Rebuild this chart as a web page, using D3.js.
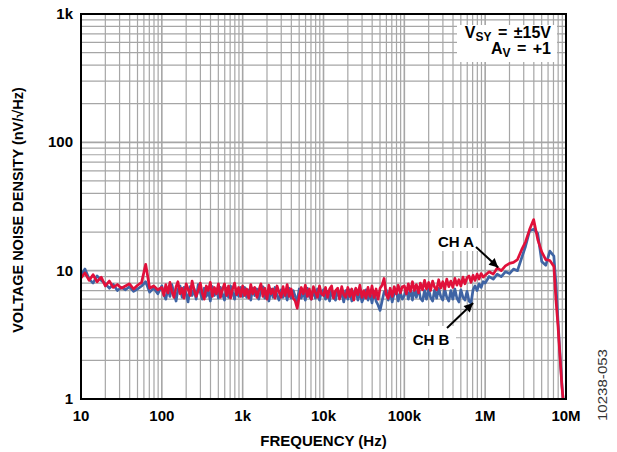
<!DOCTYPE html>
<html>
<head>
<meta charset="utf-8">
<script src="https://cdn.jsdelivr.net/npm/d3@7"></script>
<style>
  body { margin: 0; background: #fff; }
  svg { display: block; }
  text { font-family: "Liberation Sans", Arial, sans-serif; }
</style>
</head>
<body>
<div id="chart"></div>
<script>
// frequency points (Hz)
const freq = [
  10, 11.2, 12.6, 14.1, 15.8, 17.8, 20, 22.4, 25.1, 28.2, 31.6, 35.5, 39.8, 44.7, 50.1, 56.2, 63.1, 70.8, 79.4, 89.1,
  100, 106, 112, 119, 126, 133, 141, 150, 158, 168, 178, 188, 200, 211, 224, 237, 251, 266, 282, 299,
  316, 335, 355, 376, 398, 422, 447, 473, 501, 531, 562, 596, 631, 668, 708, 750, 794, 841, 891, 944,
  1000, 1060, 1120, 1190, 1260, 1330, 1410, 1500, 1580, 1680, 1780, 1880, 2000, 2110, 2240, 2370, 2510, 2660, 2820, 2990,
  3160, 3350, 3550, 3760, 3980, 4220, 4470, 4730, 5010, 5310, 5620, 5960, 6310, 6680, 7080, 7500, 7940, 8410, 8910, 9440,
  1e4, 1.06e4, 1.12e4, 1.19e4, 1.26e4, 1.33e4, 1.41e4, 1.5e4, 1.58e4, 1.68e4, 1.78e4, 1.88e4, 2e4, 2.11e4, 2.24e4, 2.37e4, 2.51e4, 2.66e4, 2.82e4, 2.99e4,
  3.16e4, 3.35e4, 3.55e4, 3.76e4, 3.98e4, 4.22e4, 4.47e4, 4.73e4, 5.01e4, 5.31e4, 5.62e4, 5.96e4, 6.31e4, 6.68e4, 7.08e4, 7.5e4, 7.94e4, 8.41e4, 8.91e4, 9.44e4,
  1e5, 1.06e5, 1.12e5, 1.19e5, 1.26e5, 1.33e5, 1.41e5, 1.5e5, 1.58e5, 1.68e5, 1.78e5, 1.88e5, 2e5, 2.11e5, 2.24e5, 2.37e5, 2.51e5, 2.66e5, 2.82e5, 2.99e5,
  3.16e5, 3.35e5, 3.55e5, 3.76e5, 3.98e5, 4.22e5, 4.47e5, 4.73e5, 5.01e5, 5.31e5, 5.62e5, 5.96e5, 6.31e5, 6.68e5, 7.08e5, 7.5e5, 7.94e5, 8.41e5, 8.91e5, 9.44e5,
  1e6, 1.12e6, 1.26e6, 1.41e6, 1.58e6, 1.78e6, 2e6, 2.24e6, 2.51e6, 2.82e6, 3.16e6, 3.55e6, 3.98e6, 4.47e6, 5.01e6, 5.62e6, 6.31e6, 7.08e6, 7.5e6, 7.94e6, 8.4e6, 8.91e6, 9.2e6
];

// CH A (red), nV/rtHz
const chA = [
  8.8, 9.6, 8.4, 9.3, 8.2, 8.9, 7.6, 8.3, 7.4, 7.8, 7.3, 7.6, 7.9, 7.2, 7.7, 8.1, 11.2, 7.3, 7.6, 7.1,
  7.4, 6.4, 7.8, 6.7, 8.1, 6.9, 6.2, 7.5, 8.2, 6.6, 7.3, 6.1, 7.9, 7.2, 6.4, 8.3, 7.1, 6.3, 7.0, 8.0,
  6.7, 6.0, 7.6, 7.0, 8.1, 6.3, 7.4, 6.6, 7.9, 6.2, 7.1, 7.9, 6.4, 7.6, 6.1, 7.2, 8.0, 6.5, 7.4, 6.3,
  7.6, 6.4, 7.2, 6.1, 7.8, 6.6, 7.4, 6.2, 7.0, 7.9, 6.3, 7.3, 6.0, 7.7, 6.6, 7.2, 6.1, 7.6, 6.8, 6.2,
  7.5, 6.4, 7.8, 6.3, 7.2, 6.1, 5.8, 5.1, 6.3, 7.4, 6.6, 7.7, 6.3, 7.2, 6.0, 7.5, 6.8, 6.2, 7.6, 6.6,
  6.4, 7.4, 6.2, 7.2, 7.6, 6.1, 7.0, 7.3, 6.0, 7.5, 6.5, 6.2, 7.4, 6.3, 7.2, 5.9, 7.3, 6.5, 7.7, 6.2,
  7.0, 6.1, 7.4, 6.3, 7.6, 6.2, 7.2, 6.0, 7.3, 7.7, 8.7, 6.5, 6.1, 7.3, 6.3, 7.5, 6.6, 7.7, 6.7, 7.5,
  7.6, 6.6, 7.9, 6.9, 8.2, 7.0, 7.8, 6.7, 8.0, 7.1, 8.4, 7.2, 8.1, 7.0, 8.3, 7.4, 7.1, 8.5, 7.3, 8.2,
  7.2, 8.6, 7.5, 8.3, 7.4, 8.7, 7.7, 8.5, 7.6, 8.9, 7.9, 8.8, 9.1, 8.1, 9.2, 8.4, 9.4, 8.6, 9.5, 8.9,
  9.2, 9.8, 9.4, 10.5, 10.0, 10.9, 11.4, 11.6, 12.2, 14.5, 16.8, 21.0, 25.0, 17.5, 14.0, 12.2, 12.0, 10.8, 6.0, 3.8, 2.2, 1.25, 1.0
];

// CH B (blue), nV/rtHz
const chB = [
  9.2, 10.3, 8.6, 8.0, 9.1, 8.4, 7.9, 7.3, 7.8, 7.0, 7.4, 7.1, 7.5, 6.9, 7.2, 7.6, 8.2, 6.8, 7.3, 6.6,
  7.6, 6.5, 6.0, 7.3, 6.3, 7.8, 6.7, 5.8, 7.1, 7.6, 6.2, 7.4, 6.6, 5.7, 7.5, 6.4, 7.2, 6.0, 7.8, 6.8,
  6.0, 7.3, 6.3, 7.0, 5.8, 7.5, 6.4, 7.2, 6.1, 7.4, 6.6, 5.9, 7.3, 6.2, 7.6, 6.8, 6.0, 7.2, 6.3, 7.4,
  6.3, 7.4, 6.2, 7.1, 5.9, 7.3, 6.4, 7.2, 6.0, 6.9, 7.5, 6.1, 6.9, 5.8, 7.2, 6.2, 7.4, 6.4, 5.9, 7.1,
  6.2, 7.0, 5.9, 7.3, 6.1, 7.0, 6.3, 5.8, 7.2, 6.1, 6.9, 5.9, 7.3, 6.3, 6.0, 7.1, 6.1, 7.2, 5.9, 6.8,
  7.1, 6.0, 6.9, 5.8, 7.1, 6.2, 5.9, 7.2, 6.1, 6.8, 5.7, 7.0, 6.0, 7.1, 5.8, 6.7, 7.2, 5.9, 6.9, 5.7,
  6.2, 7.1, 5.9, 6.8, 5.6, 6.9, 5.8, 5.4, 4.9, 5.8, 6.8, 7.1, 5.9, 6.9, 5.7, 6.7, 7.0, 5.8, 6.8, 6.0,
  6.4, 7.3, 6.0, 7.1, 5.9, 7.2, 6.2, 7.4, 6.1, 5.8, 7.0, 6.0, 7.2, 6.2, 5.8, 7.1, 6.1, 7.3, 6.3, 5.9,
  7.2, 6.2, 5.8, 7.0, 6.0, 7.2, 6.1, 5.7, 7.1, 6.2, 5.9, 6.9, 5.8, 5.6, 7.1, 7.6, 7.0, 7.9, 7.4, 8.2,
  8.0, 9.0, 8.6, 9.4, 9.0, 9.8, 9.5, 10.3, 10.0, 12.5, 15.5, 20.5, 21.0, 19.5, 11.8, 11.0, 14.2, 13.0, 8.0, 4.2, 2.3, 1.3, 1.0
];

const xTickVals = [10, 100, 1e3, 1e4, 1e5, 1e6, 1e7];
const xTickLabels = ["10", "100", "1k", "10k", "100k", "1M", "10M"];
const yTickVals = [1, 10, 100, 1000];
const yTickLabels = ["1", "10", "100", "1k"];

let margin = { top: 14, right: 51, bottom: 53, left: 81 },
  fullW = 617, fullH = 452,
  width = fullW - margin.left - margin.right,
  height = fullH - margin.top - margin.bottom;

let svg = d3.select("#chart").append("svg")
  .attr("width", fullW)
  .attr("height", fullH);

let g = svg.append("g")
  .attr("transform", "translate(" + margin.left + "," + margin.top + ")");

let x = d3.scaleLog().domain([10, 1e7]).range([0, width]);
let y = d3.scaleLog().domain([1, 1000]).range([height, 0]);

// grid
let xMinor = x.ticks(), yMinor = y.ticks();
g.append("g").selectAll("line").data(xMinor).join("line")
  .attr("x1", d => x(d)).attr("x2", d => x(d))
  .attr("y1", 0).attr("y2", height)
  .attr("stroke", "#a6a6a6")
  .attr("stroke-width", d => xTickVals.includes(d) ? 1.6 : 1.2);
g.append("g").selectAll("line").data(yMinor).join("line")
  .attr("y1", d => y(d)).attr("y2", d => y(d))
  .attr("x1", 0).attr("x2", width)
  .attr("stroke", "#a6a6a6")
  .attr("stroke-width", d => yTickVals.includes(d) ? 1.6 : 1.2);

// clip
svg.append("defs").append("clipPath").attr("id", "clip")
  .append("rect").attr("width", width).attr("height", height);

let seriesB = freq.map((f, i) => ({ f: f, v: chB[i] }));
let seriesA = freq.map((f, i) => ({ f: f, v: chA[i] }));

let line = d3.line()
  .x(d => x(d.f))
  .y(d => y(d.v));

let lines = g.append("g").attr("clip-path", "url(#clip)");
lines.append("path").datum(seriesB)
  .attr("fill", "none").attr("stroke", "#3f64a4").attr("stroke-width", 2.7)
  .attr("stroke-linejoin", "round").attr("d", line);
lines.append("path").datum(seriesA)
  .attr("fill", "none").attr("stroke", "#e0103a").attr("stroke-width", 2.7)
  .attr("stroke-linejoin", "round").attr("d", line);

// frame
g.append("rect").attr("width", width).attr("height", height)
  .attr("fill", "none").attr("stroke", "#000").attr("stroke-width", 2);

// tick labels
g.append("g").selectAll("text").data(xTickVals).join("text")
  .attr("x", d => x(d)).attr("y", height + 22)
  .attr("text-anchor", "middle")
  .attr("font-size", 15).attr("font-weight", "bold")
  .text((d, i) => xTickLabels[i]);
g.append("g").selectAll("text").data(yTickVals).join("text")
  .attr("x", -8).attr("y", d => y(d) + 5)
  .attr("text-anchor", "end")
  .attr("font-size", 15).attr("font-weight", "bold")
  .text((d, i) => yTickLabels[i]);

// axis titles
svg.append("text")
  .attr("x", margin.left + width / 2).attr("y", 446)
  .attr("text-anchor", "middle")
  .attr("font-size", 15).attr("font-weight", "bold")
  .text("FREQUENCY (Hz)");
svg.append("text")
  .attr("transform", "translate(23,210) rotate(-90)")
  .attr("text-anchor", "middle")
  .attr("font-size", 14.5).attr("font-weight", "bold")
  .text("VOLTAGE NOISE DENSITY (nV/\u221AHz)");

// figure number
svg.append("text")
  .attr("transform", "translate(607,385) rotate(-90)")
  .attr("text-anchor", "middle")
  .attr("font-size", 13).attr("fill", "#333")
  .attr("textLength", 72).attr("lengthAdjust", "spacingAndGlyphs")
  .text("10238-053");

// conditions box
g.append("rect").attr("x", 376).attr("y", 11).attr("width", 100).attr("height", 37).attr("fill", "#fff");
let t1 = g.append("text").attr("x", 470).attr("y", 24).attr("text-anchor", "end")
  .attr("font-size", 16).attr("font-weight", "bold").attr("word-spacing", 2);
t1.append("tspan").text("V");
t1.append("tspan").attr("font-size", 12).attr("dy", 3).text("SY");
t1.append("tspan").attr("dy", -3).text(" = \u00B115V");
let t2 = g.append("text").attr("x", 470).attr("y", 40).attr("text-anchor", "end")
  .attr("font-size", 16).attr("font-weight", "bold").attr("word-spacing", 2);
t2.append("tspan").text("A");
t2.append("tspan").attr("font-size", 12).attr("dy", 3).text("V");
t2.append("tspan").attr("dy", -3).text(" = +1");

// annotations
svg.select("defs").append("marker")
  .attr("id", "arrow").attr("viewBox", "0 0 10 10")
  .attr("refX", 10).attr("refY", 5)
  .attr("markerWidth", 5).attr("markerHeight", 4.5)
  .attr("markerUnits", "strokeWidth")
  .attr("orient", "auto")
  .append("path").attr("d", "M0,0L10,5L0,10Z").attr("fill", "#000");

function callout(label, tx, ty, tipF, tipV, fromX, fromY) {
  let lbl = g.append("g");
  lbl.append("rect").attr("x", tx - 25).attr("y", ty - 19).attr("width", 50).attr("height", 23).attr("fill", "#fff");
  lbl.append("text").attr("x", tx).attr("y", ty).attr("text-anchor", "middle")
    .attr("font-size", 15).attr("font-weight", "bold").text(label);
  g.append("line")
    .attr("x1", fromX).attr("y1", fromY)
    .attr("x2", x(tipF)).attr("y2", y(tipV))
    .attr("stroke", "#000").attr("stroke-width", 2)
    .attr("marker-end", "url(#arrow)");
}
callout("CH A", 375, 233, 1.45e6, 10.6, 395, 233);
callout("CH B", 350, 331, 7.1e5, 5.6, 366, 314);
</script>
</body>
</html>
